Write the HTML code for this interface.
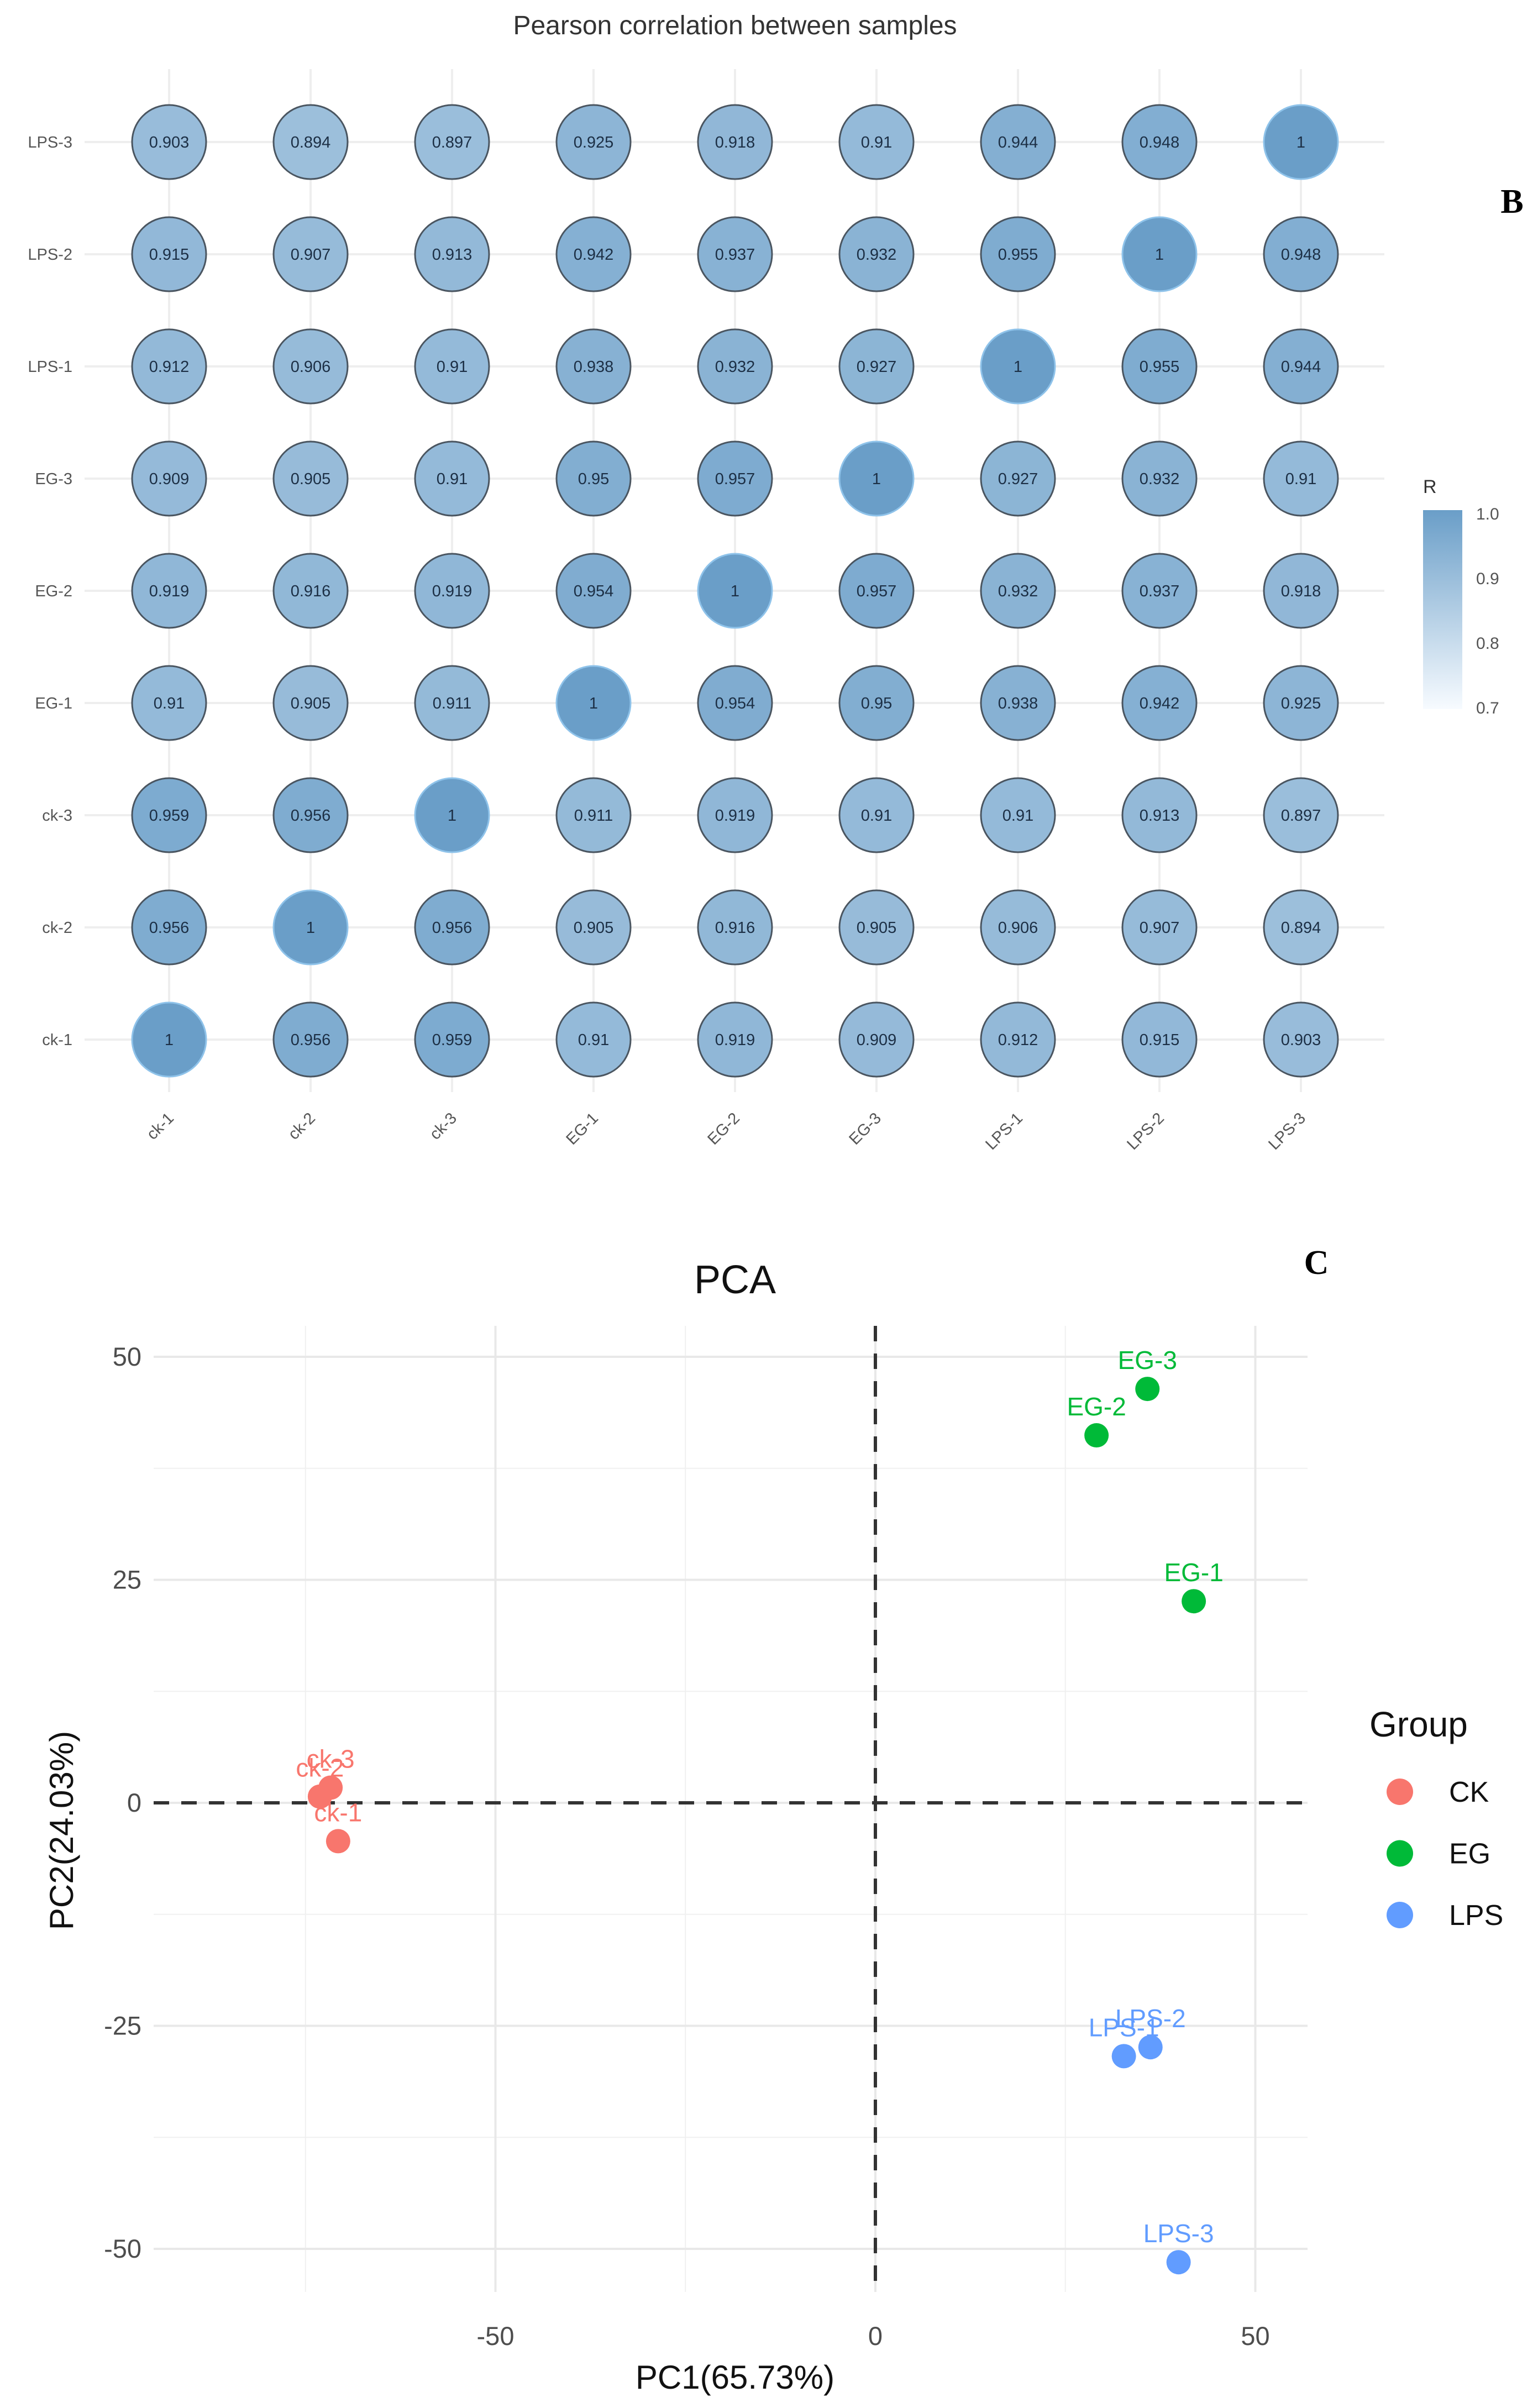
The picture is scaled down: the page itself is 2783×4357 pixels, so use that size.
<!DOCTYPE html>
<html><head><meta charset="utf-8"><style>
html,body{margin:0;padding:0;background:#fff}
svg{display:block;font-family:"Liberation Sans",sans-serif}
</style></head><body>
<svg id="fig" width="2783" height="4357" viewBox="0 0 2783 4357" xmlns="http://www.w3.org/2000/svg">
<rect width="2783" height="4357" fill="#fff"/>
<g id="corr"></g>
<g id="pca"></g>
</svg>
<script>
const samples = ["ck-1","ck-2","ck-3","EG-1","EG-2","EG-3","LPS-1","LPS-2","LPS-3"];
// rows listed from bottom (ck-1) to top (LPS-3); columns in samples order
const corrCk1 = [1,0.956,0.959,0.91,0.919,0.909,0.912,0.915,0.903];
const corrCk2 = [0.956,1,0.956,0.905,0.916,0.905,0.906,0.907,0.894];
const corrCk3 = [0.959,0.956,1,0.911,0.919,0.91,0.91,0.913,0.897];
const corrEG1 = [0.91,0.905,0.911,1,0.954,0.95,0.938,0.942,0.925];
const corrEG2 = [0.919,0.916,0.919,0.954,1,0.957,0.932,0.937,0.918];
const corrEG3 = [0.909,0.905,0.91,0.95,0.957,1,0.927,0.932,0.91];
const corrLPS1 = [0.912,0.906,0.91,0.938,0.932,0.927,1,0.955,0.944];
const corrLPS2 = [0.915,0.907,0.913,0.942,0.937,0.932,0.955,1,0.948];
const corrLPS3 = [0.903,0.894,0.897,0.925,0.918,0.91,0.944,0.948,1];
const corrRows = [corrCk1,corrCk2,corrCk3,corrEG1,corrEG2,corrEG3,corrLPS1,corrLPS2,corrLPS3];
const legendTicks = [1.0,0.9,0.8,0.7];

const pcaNames = ["ck-1","ck-2","ck-3","EG-1","EG-2","EG-3","LPS-1","LPS-2","LPS-3"];
const pcaGroups = ["CK","CK","CK","EG","EG","EG","LPS","LPS","LPS"];
const pc1 = [-70.7,-73.1,-71.7,41.9,29.1,35.8,32.7,36.2,39.9];
const pc2 = [-4.3,0.7,1.7,22.6,41.2,46.4,-28.4,-27.4,-51.5];
const groupNames = ["CK","EG","LPS"];
const groupColors = ["#F8766D","#00BA38","#619CFF"];
const xTicks = [-50,0,50];
const yTicks = [-50,-25,0,25,50];

const NS="http://www.w3.org/2000/svg";
function mk(parent,tag,attrs,text){const e=document.createElementNS(NS,tag);for(const k in attrs)e.setAttribute(k,attrs[k]);if(text!==undefined)e.textContent=text;parent.appendChild(e);return e;}

// ---------- correlation ----------
const C=document.getElementById('corr');
const colX=i=>306+i*256;
const rowY=j=>1881-j*203;
function rColor(v){const t=Math.max(0,Math.min(1,(v-0.7)/0.3));
 const a=[247,251,255],b=[106,158,200];
 return `rgb(${Math.round(a[0]+(b[0]-a[0])*t)},${Math.round(a[1]+(b[1]-a[1])*t)},${Math.round(a[2]+(b[2]-a[2])*t)})`;}
let t=mk(C,'text',{x:1330,y:62,'text-anchor':'middle','font-size':48,fill:'#333'},'Pearson correlation between samples');


for(let i=0;i<9;i++){
 let l=mk(C,'line',{x1:colX(i),x2:colX(i),y1:125,y2:1976,stroke:'#eeeeee','stroke-width':4});
 
 
 let h=mk(C,'line',{x1:153,x2:2505,y1:rowY(i),y2:rowY(i),stroke:'#eeeeee','stroke-width':4});
 
 
}
for(let j=0;j<9;j++){
 let yl=mk(C,'text',{x:131,y:rowY(j)+10,'text-anchor':'end','font-size':29,fill:'#555'},samples[j]);
 
 
 let xl=mk(C,'text',{x:0,y:0,'text-anchor':'end','font-size':29,fill:'#555',transform:`translate(${colX(j)+10},${2025}) rotate(-45)`},samples[j]);
 
 
 for(let i=0;i<9;i++){
  const v=corrRows[j][i];
  const diag=v>=1;
  let c=mk(C,'circle',{cx:colX(i),cy:rowY(j),r:67,fill:rColor(v),stroke:diag?'#8fc3ea':'#4a5560','stroke-width':diag?3:3});
  
  
  let ct=mk(C,'text',{x:colX(i),y:rowY(j)+10,'text-anchor':'middle','font-size':29,fill:'#1c2f45'},String(v));
  
  
 }
}
let B=mk(C,'text',{x:2736,y:385,'text-anchor':'middle','font-size':62,'font-weight':'bold','font-family':'Liberation Serif, serif',fill:'#000'},'B');


// legend
const defs=mk(document.getElementById('fig'),'defs',{});
const lg=mk(defs,'linearGradient',{id:'rg',x1:0,y1:0,x2:0,y2:1});
mk(lg,'stop',{offset:0,'stop-color':rColor(1.0)});
mk(lg,'stop',{offset:1,'stop-color':rColor(0.7)});
let Rt=mk(C,'text',{x:2575,y:892,'font-size':34,fill:'#333'},'R');


let bar=mk(C,'rect',{x:2575,y:923,width:71,height:360,fill:'url(#rg)'});


const lgY=v=>930+(1.0-v)/0.3*351;
legendTicks.forEach(v=>{
 let tt=mk(C,'text',{x:2671,y:lgY(v)+10,'font-size':30,fill:'#555'},v.toFixed(1));
 
 
});

// ---------- PCA ----------
const P=document.getElementById('pca');
const px=v=>1584+v*13.75;
const py=v=>3262-v*16.14;
const L=278,R=2366,T=2399,Bm=4147;
[-75,-25,25].forEach(v=>{let l=mk(P,'line',{x1:px(v),x2:px(v),y1:T,y2:Bm,stroke:'#f0f0f0','stroke-width':2});
 
 });
[-37.5,-12.5,12.5,37.5].forEach(v=>{let l=mk(P,'line',{x1:L,x2:R,y1:py(v),y2:py(v),stroke:'#f0f0f0','stroke-width':2});
 
 });
xTicks.forEach(v=>{let l=mk(P,'line',{x1:px(v),x2:px(v),y1:T,y2:Bm,stroke:'#e8e8e8','stroke-width':4});
 
 
 let tt=mk(P,'text',{x:px(v),y:4243,'text-anchor':'middle','font-size':47,fill:'#4d4d4d'},String(v));
 
 });
yTicks.forEach(v=>{let l=mk(P,'line',{x1:L,x2:R,y1:py(v),y2:py(v),stroke:'#e8e8e8','stroke-width':4});
 
 
 let tt=mk(P,'text',{x:256,y:py(v)+16,'text-anchor':'end','font-size':47,fill:'#4d4d4d'},String(v));
 
 });
let dx=mk(P,'line',{x1:px(0),x2:px(0),y1:T,y2:Bm,stroke:'#333','stroke-width':6,'stroke-dasharray':'28 22'});


let dy=mk(P,'line',{x1:L,x2:R,y1:py(0),y2:py(0),stroke:'#333','stroke-width':6,'stroke-dasharray':'28 22'});


for(let k=0;k<pcaNames.length;k++){
 const col=groupColors[groupNames.indexOf(pcaGroups[k])];
 let c=mk(P,'circle',{cx:px(pc1[k]),cy:py(pc2[k]),r:22,fill:col});
 
 
 let lt=mk(P,'text',{x:px(pc1[k]),y:py(pc2[k])-36,'text-anchor':'middle','font-size':46,fill:col},pcaNames[k]);
 
 
}
let pt=mk(P,'text',{x:1330,y:2340,'text-anchor':'middle','font-size':72,fill:'#111'},'PCA');


let Cl=mk(P,'text',{x:2382,y:2305,'text-anchor':'middle','font-size':62,'font-weight':'bold','font-family':'Liberation Serif, serif',fill:'#000'},'C');


let xt=mk(P,'text',{x:1330,y:4322,'text-anchor':'middle','font-size':60,fill:'#111'},'PC1(65.73%)');


let yt=mk(P,'text',{x:0,y:0,'text-anchor':'middle','font-size':60,fill:'#111',transform:'translate(132,3312) rotate(-90)'},'PC2(24.03%)');


let gt=mk(P,'text',{x:2478,y:3142,'font-size':64,fill:'#111'},'Group');


groupNames.forEach((g,i)=>{
 const y=3242+i*111.5;
 let d=mk(P,'circle',{cx:2533,cy:y,r:24,fill:groupColors[i]});
 
 
 let tt=mk(P,'text',{x:2622,y:y+18,'font-size':52,fill:'#111'},g);
 
 
});
</script>
</body></html>
